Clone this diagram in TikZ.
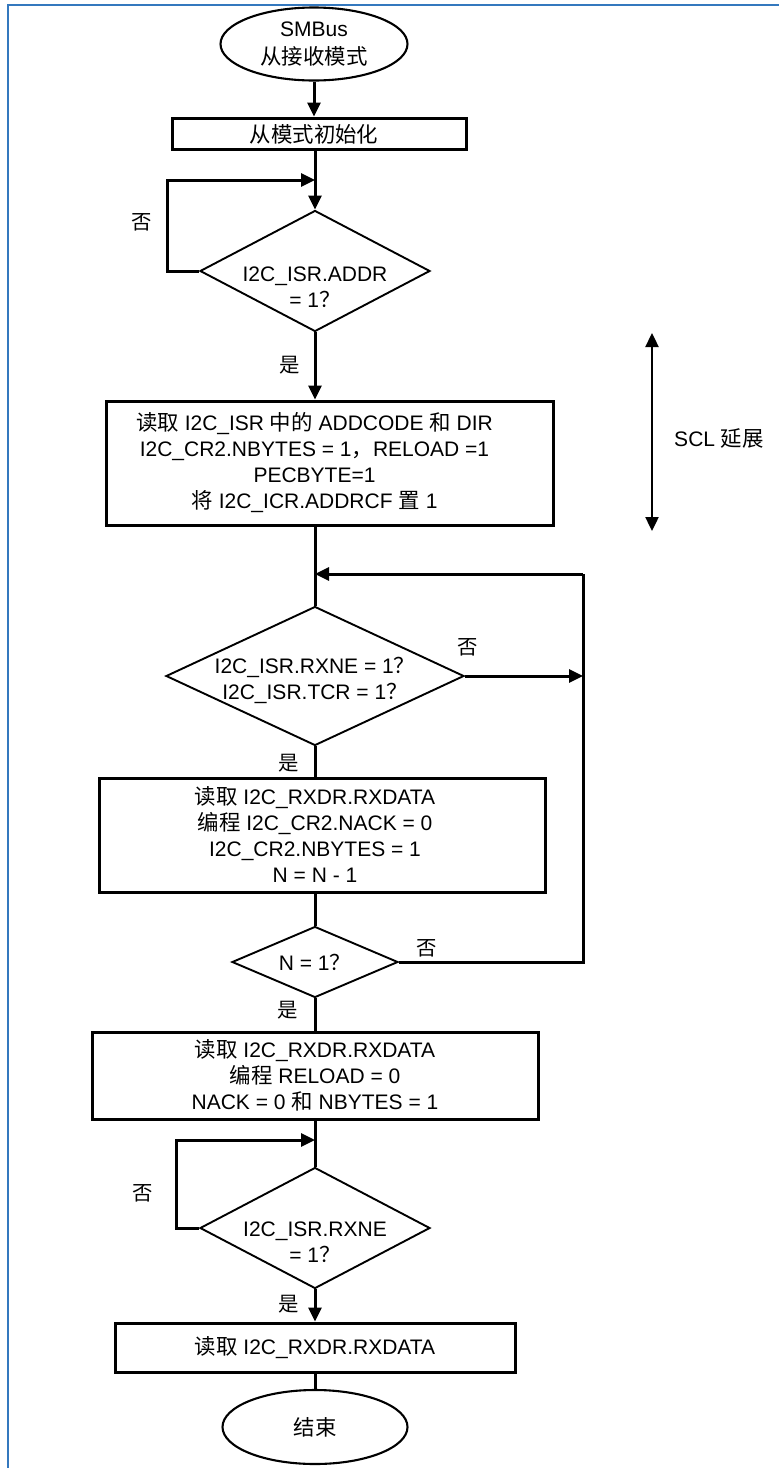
\documentclass[tikz,border=0pt]{standalone}
\usepackage{fontspec}
\setmainfont{Liberation Sans}
\newfontfamily\zhfont{Noto Sans CJK SC}[Scale=1.02]
\newcommand{\zh}[1]{{\zhfont #1}}
\usetikzlibrary{shapes.geometric,arrows.meta}
\definecolor{framec}{RGB}{52,120,190}
\begin{document}
\begin{tikzpicture}[x=1pt,y=-1pt,
  txt/.style={font=\fontsize{21}{26}\selectfont, align=center, inner sep=0pt},
  boxs/.style={draw, line width=3pt, inner sep=0pt},
  dia/.style={draw, diamond, line width=1.9pt, inner sep=0pt},
  ell/.style={draw, ellipse, line width=2.1pt, inner sep=0pt, txt},
  con/.style={line width=3pt},
  tip/.tip={Triangle[length=14pt,width=13pt]},
  arr/.style={con, -tip},
  lab/.style={font=\zhfont\fontsize{20}{24}\selectfont, inner sep=0pt}
]
\useasboundingbox (0,0) rectangle (779,1468);
\fill[white] (0,0) rectangle (779,1468);
\draw[framec, line width=2pt] (8,1468) -- (8,4.5) -- (779,4.5);

% nodes
\node[ell, minimum width=187pt, minimum height=73pt] (start) at (314,44) {SMBus\\[2pt]\zh{从接收模式}};
\node[boxs, minimum width=294pt, minimum height=31pt,
  label={[txt, xshift=-5pt, yshift=-1pt]center:\zh{从模式初始化}}] (b1) at (319,133.5) {};
\node[dia, minimum width=230pt, minimum height=121pt,
  label={[txt, yshift=-16pt]center:I2C\_ISR.ADDR\\= 1\zh{？}}] (d1) at (315,271) {};
\node[boxs, minimum width=447pt, minimum height=124pt,
  label={[txt, xshift=-15pt]center:\zh{读取} I2C\_ISR \zh{中的} ADDCODE \zh{和} DIR\\I2C\_CR2.NBYTES = 1\zh{，}RELOAD =1\\PECBYTE=1\\\zh{将} I2C\_ICR.ADDRCF \zh{置} 1}] (b2) at (329.5,463) {};
\node[dia, minimum width=298pt, minimum height=139pt,
  label={[txt, yshift=-4pt]center:I2C\_ISR.RXNE = 1\zh{？}\\I2C\_ISR.TCR = 1\zh{？}}] (d2) at (315,676) {};
\node[boxs, minimum width=446pt, minimum height=114pt,
  label={[txt, xshift=-7pt, yshift=1pt]center:\zh{读取} I2C\_RXDR.RXDATA\\\zh{编程} I2C\_CR2.NACK = 0\\I2C\_CR2.NBYTES = 1\\N = N - 1}] (b3) at (322,835) {};
\node[dia, minimum width=166pt, minimum height=71pt,
  label={[txt]center:N = 1\zh{？}}] (d3) at (315,962) {};
\node[boxs, minimum width=446pt, minimum height=87pt,
  label={[txt]center:\zh{读取} I2C\_RXDR.RXDATA\\\zh{编程} RELOAD = 0\\NACK = 0 \zh{和} NBYTES = 1}] (b4) at (315,1075.5) {};
\node[dia, minimum width=230pt, minimum height=121pt,
  label={[txt, yshift=-14pt]center:I2C\_ISR.RXNE\\= 1\zh{？}}] (d4) at (315,1228) {};
\node[boxs, minimum width=400pt, minimum height=49pt,
  label={[txt]center:\zh{读取} I2C\_RXDR.RXDATA}] (b5) at (315,1347.5) {};
\node[ell, minimum width=185pt, minimum height=74pt] (end) at (315,1427) {\zh{结束}};

% junction coordinates
\coordinate (j1) at (315,180);
\coordinate (j2) at (315,574);
\coordinate (rtop) at (583,574);
\coordinate (j4) at (315,1140);
\coordinate (s1) at (652,333);
\coordinate (s2) at (652,531);

% connectors
\draw[arr] (start.south) -- (start.south |- b1.north);
\draw[arr] (b1.south -| d1.north) -- (d1.north);
\draw[arr] (d1.west) -- ++(-32,0) |- (j1);
\draw[arr] (d1.south) -- (d1.south |- b2.north);
\draw[con] (b2.south -| d2.north) -- (d2.north);
\draw[arr] (rtop) -- (j2);
\draw[arr] (d2.east) -- (d2.east -| rtop);
\draw[con] (d2.south) -- (d2.south |- b3.north);
\draw[con] (b3.south -| d3.north) -- (d3.north);
\draw[con] (d3.east) -- (d3.east -| rtop) -- (rtop);
\draw[con] (d3.south) -- (b4.north);
\draw[con] (b4.south) -- (d4.north);
\draw[arr] (d4.west) -- ++(-23,0) |- (j4);
\draw[arr] (d4.south) -- (b5.north);
\draw[con] (b5.south) -- (end.north);
\draw[line width=2.4pt, tip-tip] (s1) -- (s2);

% labels
\node[lab] (n1) at (142,222) {否};
\node[lab] (y1) at (290,365) {是};
\node[lab] (n2) at (468,647) {否};
\node[lab] (y2) at (289,763) {是};
\node[lab] (n3) at (427,948) {否};
\node[lab] (y3) at (288,1010) {是};
\node[lab] (n4) at (143,1193) {否};
\node[lab] (y4) at (289,1304) {是};
\node[txt] (scl) at (719,438) {SCL \zh{延展}};
\end{tikzpicture}
\end{document}
